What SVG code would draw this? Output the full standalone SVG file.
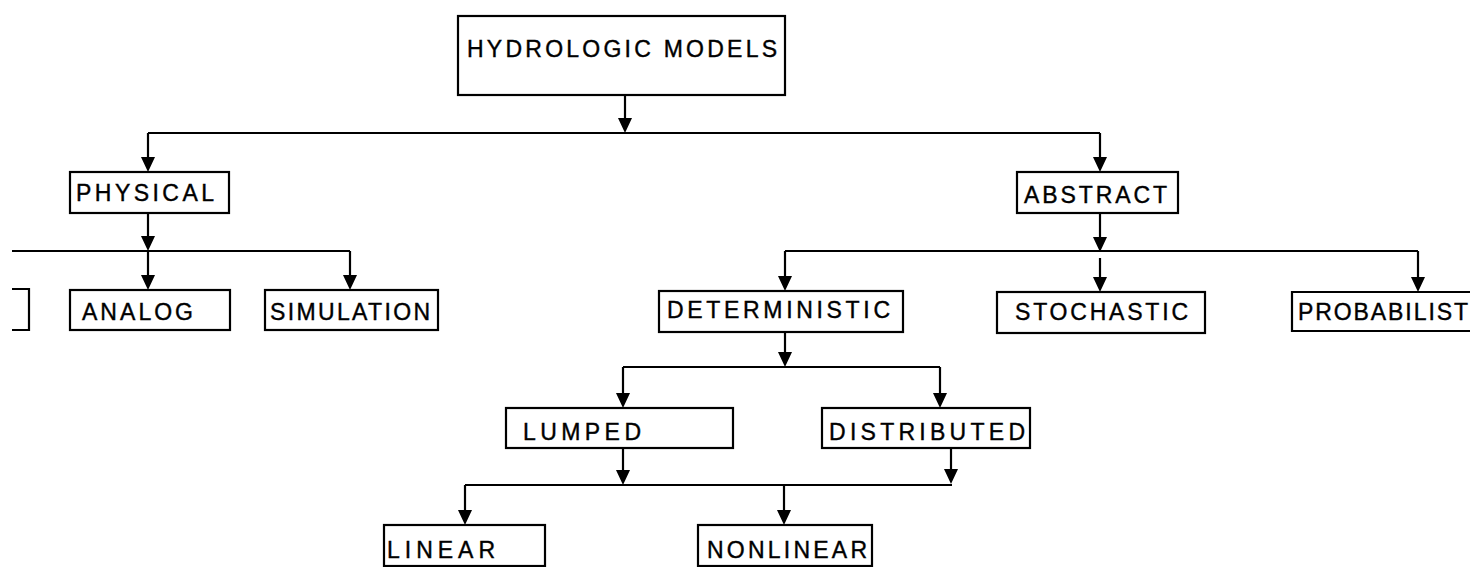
<svg xmlns="http://www.w3.org/2000/svg" width="1470" height="567" viewBox="0 0 1470 567">
<defs>
<style>
.box{fill:#fff;stroke:#000;stroke-width:2.2}
.open{fill:none;stroke:#000;stroke-width:2.2}
.lbl{font-family:"Liberation Sans","DejaVu Sans",sans-serif;font-size:23px;fill:#000;stroke:#000;stroke-width:0.4}
.ln{fill:none;stroke:#000;stroke-width:2.2}
</style>
</defs>
<rect width="1470" height="567" fill="#fff"/>
<g id="connectors">
<path class="ln" d="M625,95 V120" />
<path class="ln" d="M148,133 H1100" />
<path class="ln" d="M148,133 V160" />
<path class="ln" d="M1100,133 V160" />
<path class="ln" d="M148,213 V238" />
<path class="ln" d="M12,251 H350" />
<path class="ln" d="M148,251 V278" />
<path class="ln" d="M350,251 V278" />
<path class="ln" d="M1100,213 V240" />
<path class="ln" d="M785,251 H1418" />
<path class="ln" d="M785,251 V279" />
<path class="ln" d="M1100,258 V280" />
<path class="ln" d="M1418,251 V280" />
<path class="ln" d="M785,332 V355" />
<path class="ln" d="M623,367 H940" />
<path class="ln" d="M623,367 V396" />
<path class="ln" d="M940,367 V396" />
<path class="ln" d="M623,448 V473" />
<path class="ln" d="M465,485 H952" />
<path class="ln" d="M951,448 V471" />
<path class="ln" d="M465,485 V513" />
<path class="ln" d="M784,485 V513" />
<g fill="#000">
<path d="M618,118 L632,118 L625,133 Z"/>
<path d="M141,157 L155,157 L148,172 Z"/>
<path d="M1093,157 L1107,157 L1100,172 Z"/>
<path d="M141,236 L155,236 L148,251 Z"/>
<path d="M141,275 L155,275 L148,290 Z"/>
<path d="M343,275 L357,275 L350,290 Z"/>
<path d="M1093,237 L1107,237 L1100,252 Z"/>
<path d="M778,276 L792,276 L785,291 Z"/>
<path d="M1093,277 L1107,277 L1100,292 Z"/>
<path d="M1411,277 L1425,277 L1418,292 Z"/>
<path d="M778,352 L792,352 L785,367 Z"/>
<path d="M616,393 L630,393 L623,408 Z"/>
<path d="M933,393 L947,393 L940,408 Z"/>
<path d="M616,470 L630,470 L623,485 Z"/>
<path d="M944,469 L958,469 L951,484 Z"/>
<path d="M458,510 L472,510 L465,525 Z"/>
<path d="M777,510 L791,510 L784,525 Z"/>
</g>
</g>
<g id="n-hydrologic"><rect class="box" x="458" y="16" width="327" height="79"/><text class="lbl" x="467" y="57" textLength="310" lengthAdjust="spacing">HYDROLOGIC MODELS</text></g>
<g id="n-physical"><rect class="box" x="70" y="172" width="159" height="41"/><text class="lbl" x="76" y="201" textLength="138" lengthAdjust="spacing">PHYSICAL</text></g>
<g id="n-abstract"><rect class="box" x="1017" y="172" width="161" height="41"/><text class="lbl" x="1024" y="203" textLength="143" lengthAdjust="spacing">ABSTRACT</text></g>
<g id="n-partial"><path class="open" d="M12,289 H29 V330 H12"/></g>
<g id="n-analog"><rect class="box" x="70" y="290" width="160" height="40"/><text class="lbl" x="82" y="320" textLength="111" lengthAdjust="spacing">ANALOG</text></g>
<g id="n-simulation"><rect class="box" x="265" y="290" width="173" height="40"/><text class="lbl" x="270" y="320" textLength="160" lengthAdjust="spacing">SIMULATION</text></g>
<g id="n-deterministic"><rect class="box" x="659" y="291" width="244" height="41"/><text class="lbl" x="667" y="318" textLength="223" lengthAdjust="spacing">DETERMINISTIC</text></g>
<g id="n-stochastic"><rect class="box" x="997" y="292" width="208" height="41"/><text class="lbl" x="1015" y="320" textLength="173" lengthAdjust="spacing">STOCHASTIC</text></g>
<g id="n-probabilistic"><path class="open" d="M1470,292 H1292 V331 H1470"/><text class="lbl" x="1298" y="320" textLength="170" lengthAdjust="spacing">PROBABILIST</text></g>
<g id="n-lumped"><rect class="box" x="506" y="408" width="227" height="40"/><text class="lbl" x="523" y="440" textLength="118" lengthAdjust="spacing">LUMPED</text></g>
<g id="n-distributed"><rect class="box" x="822" y="408" width="208" height="40"/><text class="lbl" x="829" y="440" textLength="196" lengthAdjust="spacing">DISTRIBUTED</text></g>
<g id="n-linear"><rect class="box" x="384" y="525" width="161" height="41"/><text class="lbl" x="387" y="558" textLength="108" lengthAdjust="spacing">LINEAR</text></g>
<g id="n-nonlinear"><rect class="box" x="698" y="525" width="174" height="41"/><text class="lbl" x="707" y="558" textLength="160" lengthAdjust="spacing">NONLINEAR</text></g>
</svg>
